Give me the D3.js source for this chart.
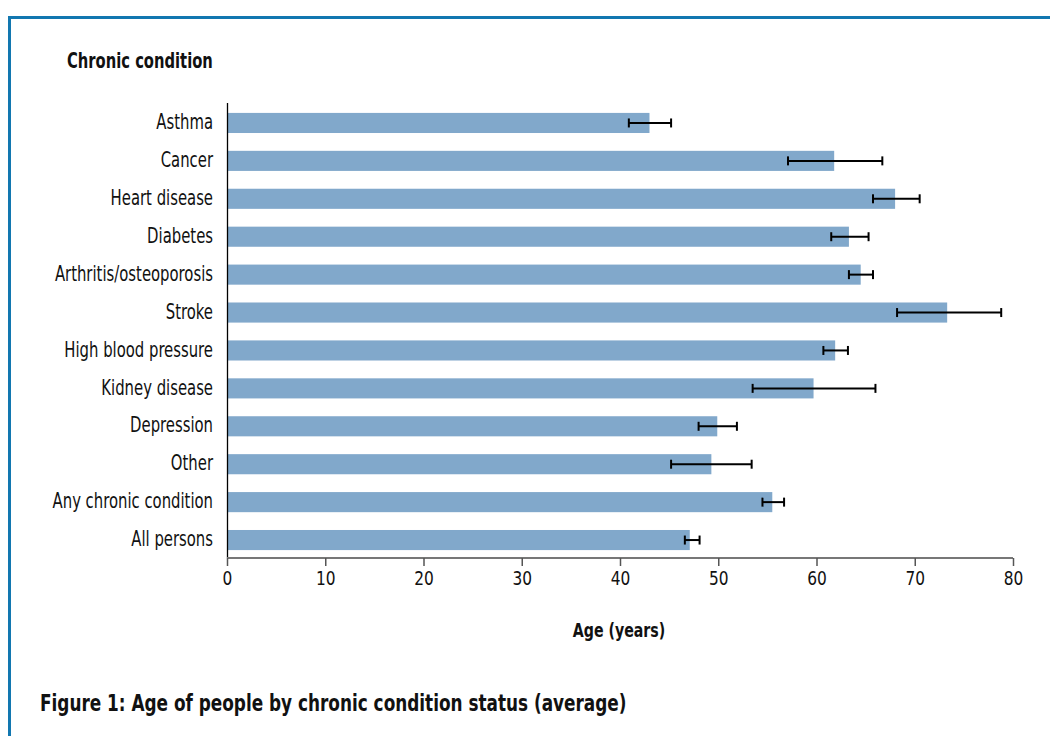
<!DOCTYPE html>
<html><head><meta charset="utf-8">
<script src="https://cdn.jsdelivr.net/npm/d3@7/dist/d3.min.js"></script>
<style>body{margin:0;background:#fff;} svg{display:block;}</style>
</head><body>
<svg id="c" width="1050" height="736"></svg>
<script>
const categories = ["Asthma","Cancer","Heart disease","Diabetes","Arthritis/osteoporosis","Stroke","High blood pressure","Kidney disease","Depression","Other","Any chronic condition","All persons"];
const values = [43.0,61.8,68.0,63.3,64.5,73.3,61.9,59.7,49.9,49.3,55.5,47.1];
const lower  = [40.9,57.1,65.75,61.5,63.3,68.2,60.7,53.5,48.0,45.2,54.5,46.6];
const upper  = [45.2,66.7,70.5,65.3,65.75,78.8,63.2,66.0,51.9,53.4,56.7,48.1];
const xTicks = [0,10,20,30,40,50,60,70,80];

const FONT = "'Liberation Sans Narrow','DejaVu Sans Condensed','Liberation Sans',sans-serif";
const svg = d3.select("#c");

function label(txt, px, py, size, sx, anchor, bold){
  return svg.append("text").attr("transform",`translate(${px},${py}) scale(${sx},1)`)
    .attr("text-anchor",anchor).attr("font-family",FONT).attr("font-weight",bold?"bold":"normal")
    .attr("font-size",size).attr("fill","#111").text(txt);
}

// frame
svg.append("rect").attr("x",9.5).attr("y",17.5).attr("width",1100).attr("height",800)
  .attr("fill","none").attr("stroke","#1277b0").attr("stroke-width",3);

const x = d3.scaleLinear().domain([0,80]).range([227,1013]);
const y = d3.scaleBand().domain(categories).range([104,559]).paddingInner(0.47).paddingOuter(0.235);

// bars
svg.append("g").selectAll("rect").data(categories).join("rect")
  .attr("x",x(0)).attr("y",d=>y(d)).attr("height",y.bandwidth())
  .attr("width",(d,i)=>x(values[i])-x(0)).attr("fill","#81a8cb");

// error bars
const eb = svg.append("g").attr("stroke","#000").attr("stroke-width",2);
categories.forEach((c,i)=>{
  const cy = y(c)+y.bandwidth()/2;
  eb.append("line").attr("x1",x(lower[i])).attr("x2",x(upper[i])).attr("y1",cy).attr("y2",cy);
  [lower[i],upper[i]].forEach(v=>eb.append("line").attr("x1",x(v)).attr("x2",x(v)).attr("y1",cy-4.5).attr("y2",cy+4.5));
});

// y axis
const ya = svg.append("g").attr("transform",`translate(${x(0)},0)`)
  .call(d3.axisLeft(y).tickSize(0));
ya.select(".domain").remove();
ya.selectAll("text").attr("x",0).attr("dy","0.28em").attr("transform","translate(-14,0) scale(0.75,1)")
  .attr("font-family",FONT).attr("font-size",22).attr("fill","#111");
svg.append("line").attr("x1",x(0)+0.5).attr("x2",x(0)+0.5).attr("y1",103).attr("y2",558).attr("stroke","#000").attr("stroke-width",1.3);

// x axis
const xa = svg.append("g").attr("transform","translate(0,558)")
  .call(d3.axisBottom(x).tickValues(xTicks).tickSize(8).tickPadding(6).tickFormat(d3.format("d")));
xa.select(".domain").attr("stroke","#777").attr("stroke-width",2).attr("d",`M${x(0)},0H${x(80)}`);
xa.selectAll(".tick line").attr("stroke","#555").attr("stroke-width",1.5);
xa.selectAll("text").attr("font-family",FONT).attr("font-size",19).attr("fill","#111")
  .attr("transform","scale(0.9,1)");

// titles
label("Chronic condition", 67, 68, 20.5, 0.8, "start", true);
label("Age (years)", 619, 637, 19, 0.83, "middle", true);
label("Figure 1: Age of people by chronic condition status (average)", 40, 711, 23, 0.816, "start", true);
</script>
</body></html>
